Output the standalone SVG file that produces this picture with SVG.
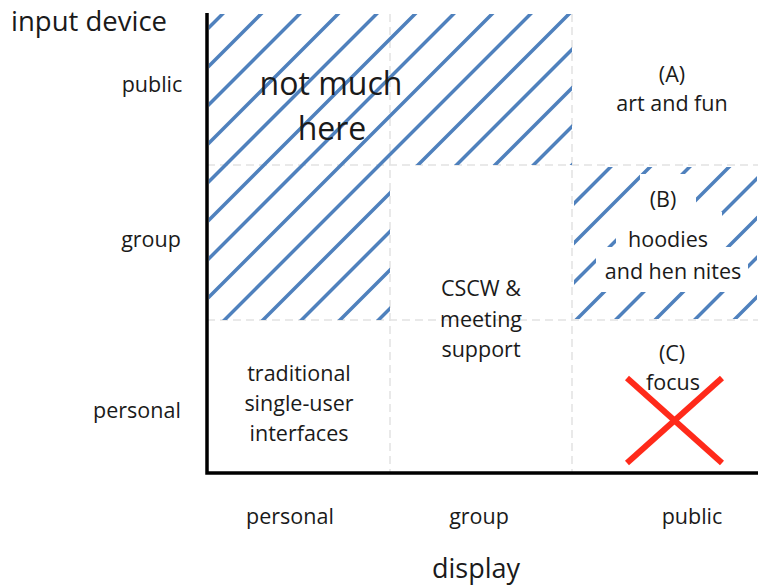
<svg xmlns="http://www.w3.org/2000/svg" width="764" height="586" viewBox="0 0 764 586">
  <style>
    .lbl { font-family: "Open Sans", Lato, "Liberation Sans", sans-serif; fill: #1a1a1a; text-anchor: middle; font-size: 21.5px; }
    .big { font-size: 32px; }
    .axis { stroke: #000; stroke-width: 3.5; fill: none; }
    .grid { stroke: #e2e2e2; stroke-width: 1.5; stroke-dasharray: 8 5; fill: none; }
    .hatch line { stroke: #4f81bd; stroke-width: 3.5; stroke-linecap: round; }
    .cross { stroke: #ff2a1a; stroke-width: 6; }
    .pad { fill: #fff; }
  </style>
  <defs>
    <clipPath id="clipUpper">
      <polygon points="209,14 572,14 572,165 390,165 390,320 209,320"/>
    </clipPath>
    <clipPath id="clipB">
      <rect x="574" y="167" width="183" height="152"/>
    </clipPath>
  </defs>

  <!-- cell grid -->
  <g id="grid">
    <line class="grid" x1="390" y1="14" x2="390" y2="472"/>
    <line class="grid" x1="572" y1="14" x2="572" y2="472"/>
    <line class="grid" x1="207" y1="165" x2="758" y2="165"/>
    <line class="grid" x1="207" y1="320" x2="758" y2="320"/>
  </g>

  <!-- hatched region: not much here -->
  <g id="hatch-upper" class="hatch" clip-path="url(#clipUpper)">
    <line x1="236.5" y1="0" x2="-263.5" y2="500"/>
    <line x1="275" y1="0" x2="-225" y2="500"/>
    <line x1="313.5" y1="0" x2="-186.5" y2="500"/>
    <line x1="352" y1="0" x2="-148" y2="500"/>
    <line x1="390.5" y1="0" x2="-109.5" y2="500"/>
    <line x1="429" y1="0" x2="-71" y2="500"/>
    <line x1="467.5" y1="0" x2="-32.5" y2="500"/>
    <line x1="506" y1="0" x2="6" y2="500"/>
    <line x1="544.5" y1="0" x2="44.5" y2="500"/>
    <line x1="583" y1="0" x2="83" y2="500"/>
    <line x1="621.5" y1="0" x2="121.5" y2="500"/>
    <line x1="660" y1="0" x2="160" y2="500"/>
    <line x1="698.5" y1="0" x2="198.5" y2="500"/>
    <line x1="737" y1="0" x2="237" y2="500"/>
    <line x1="775.5" y1="0" x2="275.5" y2="500"/>
    <line x1="814" y1="0" x2="314" y2="500"/>
    <line x1="852.5" y1="0" x2="352.5" y2="500"/>
    <line x1="891" y1="0" x2="391" y2="500"/>
  </g>

  <!-- hatched cell B -->
  <g id="hatch-b" class="hatch" clip-path="url(#clipB)">
    <line x1="738" y1="0" x2="238" y2="500"/>
    <line x1="777.5" y1="0" x2="277.5" y2="500"/>
    <line x1="817" y1="0" x2="317" y2="500"/>
    <line x1="856.5" y1="0" x2="356.5" y2="500"/>
    <line x1="896" y1="0" x2="396" y2="500"/>
    <line x1="935.5" y1="0" x2="435.5" y2="500"/>
    <line x1="975" y1="0" x2="475" y2="500"/>
    <line x1="1014.5" y1="0" x2="514.5" y2="500"/>
    <line x1="1054" y1="0" x2="554" y2="500"/>
    <line x1="1093.5" y1="0" x2="593.5" y2="500"/>
    <line x1="1133" y1="0" x2="633" y2="500"/>
  </g>

  <!-- axes -->
  <g id="axes">
    <polyline class="axis" points="207,13 207,473 758,473"/>
  </g>

  <!-- axis titles and ticks -->
  <g id="axis-y-title"><text class="lbl" x="11" y="31" style="text-anchor:start;font-size:27.5px">input device</text></g>
  <g id="axis-x-title"><text class="lbl" x="476" y="578" style="font-size:27px">display</text></g>
  <g id="y-public"><text class="lbl" x="152" y="92">public</text></g>
  <g id="y-group"><text class="lbl" x="151" y="247">group</text></g>
  <g id="y-personal"><text class="lbl" x="137" y="418">personal</text></g>
  <g id="x-personal"><text class="lbl" x="290" y="524">personal</text></g>
  <g id="x-group"><text class="lbl" x="479" y="524">group</text></g>
  <g id="x-public"><text class="lbl" x="692" y="524">public</text></g>

  <!-- cell contents -->
  <g id="cell-not-much">
    <text class="lbl big" x="331" y="95">not much</text>
    <text class="lbl big" x="332" y="140">here</text>
  </g>

  <g id="cell-a">
    <text class="lbl" x="672" y="82">(A)</text>
    <text class="lbl" x="672" y="111">art and fun</text>
  </g>

  <g id="cell-b">
    <rect class="pad" x="640" y="174" width="56" height="38"/>
    <rect class="pad" x="616" y="212" width="106" height="36"/>
    <rect class="pad" x="596" y="247" width="152" height="45"/>
    <text class="lbl" x="663" y="207">(B)</text>
    <text class="lbl" x="668" y="247">hoodies</text>
    <text class="lbl" x="673" y="279">and hen nites</text>
  </g>

  <g id="cell-cscw">
    <text class="lbl" x="481" y="296">CSCW &amp;</text>
    <text class="lbl" x="481" y="327">meeting</text>
    <text class="lbl" x="481" y="357">support</text>
  </g>

  <g id="cell-traditional">
    <text class="lbl" x="299" y="381">traditional</text>
    <text class="lbl" x="299" y="411">single-user</text>
    <text class="lbl" x="299" y="441">interfaces</text>
  </g>

  <g id="cell-c">
    <text class="lbl" x="672" y="361">(C)</text>
    <text class="lbl" x="673" y="390">focus</text>
    <line class="cross" x1="627" y1="378" x2="722" y2="463"/>
    <line class="cross" x1="722" y1="378" x2="627" y2="463"/>
  </g>
</svg>
